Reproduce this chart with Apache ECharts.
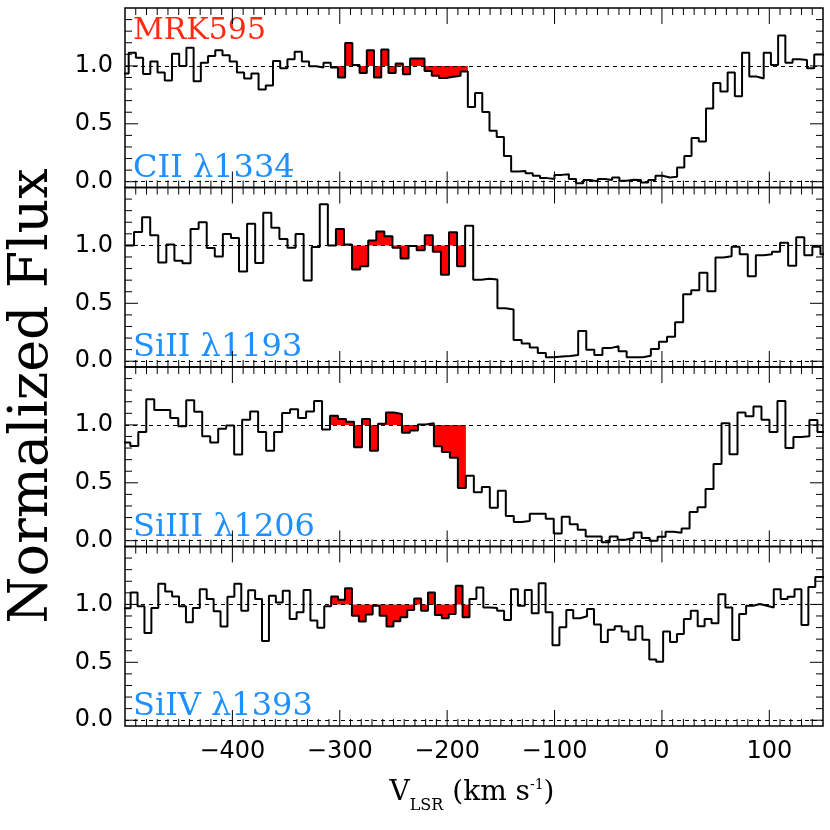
<!DOCTYPE html>
<html>
<head>
<meta charset="utf-8">
<style>
html, body { margin: 0; padding: 0; background: #fff; }
#chart { width: 830px; height: 830px; }
</style>
<script src="https://cdn.jsdelivr.net/npm/echarts@6.0.0/dist/echarts.min.js"></script>
</head>
<body>
<div id="chart"></div>
<script>
// velocity grid of each line: left edge of first bin and bin width (km/s)
const ciiStart = -503.3, ciiWidth = 6.72;
const siiiStart = -499.1, siiiWidth = 7.52;
const siiiiStart = -502.5, siiiiWidth = 7.44;
const siivStart = -501.2, siivWidth = 6.44;

// normalized flux per bin
const ciiFlux = [
  0.935, 1.113, 1.07, 0.93, 1.037, 0.943, 0.873, 1.105, 1.0, 1.156, 0.867, 1.028,
  1.085, 1.136, 1.093, 1.037, 0.943, 0.892, 0.935, 0.796, 0.83, 1.042, 0.98, 1.057,
  1.122, 1.037, 0.997, 0.986, 1.028, 0.986, 0.9, 1.198, 1.008, 0.938, 1.136, 0.9,
  1.142, 0.938, 1.02, 0.929, 1.065, 1.065, 0.957, 0.915, 0.895, 0.907, 0.915, 0.952,
  0.646, 0.765, 0.603, 0.439, 0.385, 0.221, 0.088, 0.093, 0.074, 0.051, 0.031, 0.023,
  0.059, 0.065, 0.023, -0.014, 0.014, 0.003, 0.023, 0.014, 0.037, 0.008, 0.017, 0.014,
  -0.006, 0.014, 0.051, 0.037, 0.042, 0.122, 0.221, 0.377, 0.348, 0.632, 0.853, 0.779,
  0.943, 0.739, 1.113, 0.909, 0.892, 1.113, 1.008, 1.263, 1.028, 1.057, 1.051, 0.98,
  1.099, 1.10
];
const siiiFlux = [
  1.0, 1.116, 1.243, 1.088, 0.853, 1.008, 0.867, 0.845, 1.141, 1.2, 0.977, 0.904,
  1.099, 1.065, 0.774, 1.186, 0.847, 1.282, 1.153, 1.056, 0.98, 1.099, 0.698, 0.986,
  1.356, 1.0, 1.141, 1.008, 0.791, 0.819, 1.042, 1.121, 1.079, 0.98, 0.887, 0.994,
  0.958, 1.088, 0.946, 0.746, 1.113, 0.819, 1.169,
  0.703, 0.712, 0.706, 0.458, 0.446, 0.184, 0.153, 0.119, 0.071, 0.034, 0.040, 0.045,
  0.054, 0.260, 0.099, 0.054, 0.113, 0.130, 0.085, 0.034, 0.034, 0.048, 0.105, 0.167,
  0.212, 0.336, 0.579, 0.613, 0.763, 0.605, 0.895, 0.907, 0.989, 0.924, 0.734, 0.915,
  0.924, 0.946, 1.023, 0.825, 1.071, 0.915, 0.989, 0.924
];
const siiiiFlux = [
  0.847, 0.818, 0.938, 1.222, 1.128, 1.128, 1.06, 0.989, 1.213, 1.114, 0.901, 0.847,
  0.966, 0.994, 0.744, 1.045, 1.116, 0.938, 0.776, 0.938, 1.102, 1.136, 1.06, 1.116,
  1.207, 0.96, 1.08, 1.051, 1.028, 0.807, 1.051, 0.776, 1.009, 1.108, 1.094, 0.932,
  0.952, 1.003, 1.014, 0.815, 0.767, 0.716, 0.455,
  0.562, 0.418, 0.463, 0.284, 0.432, 0.213, 0.162, 0.170, 0.233, 0.233, 0.190, 0.063,
  0.207, 0.142, 0.094, 0.037, 0.037, -0.014, 0.037, 0.009, 0.023, 0.071, 0.023, 0.0,
  0.034, 0.077, 0.068, 0.105, 0.247, 0.290, 0.446, 0.662, 1.014, 0.747, 1.108, 1.074,
  1.159, 1.045, 0.938, 1.207, 0.801, 0.895, 0.901, 1.043, 0.938
];
const siivFlux = [
  0.966, 1.103, 0.983, 0.752, 0.969, 1.179, 1.111, 1.068, 0.983, 0.846, 0.969, 1.131,
  1.046, 0.94, 0.809, 1.066, 1.179, 0.946, 1.123, 1.046, 0.684, 1.074, 1.017, 1.117,
  0.875, 0.932, 1.125, 0.86, 0.798, 0.983, 1.068, 1.04, 1.14, 0.903, 0.852, 0.912,
  0.989, 0.903, 0.809, 0.855, 0.889, 0.952, 1.051, 0.946, 1.103, 0.909, 0.88, 0.917,
  1.16, 0.889,
  1.046, 1.145, 0.974, 0.969, 0.946, 0.866, 1.131, 0.989, 1.125, 0.923, 1.182, 0.932,
  0.647, 0.803, 0.952, 0.880, 0.897, 0.960, 0.826, 0.675, 0.781, 0.812, 0.766, 0.695,
  0.812, 0.695, 0.524, 0.504, 0.766, 0.675, 0.744, 0.875, 0.946, 0.812, 0.875, 0.838,
  1.088, 0.974, 0.692, 0.917, 0.989, 1.003, 0.989, 0.974, 1.131, 1.046, 1.066, 1.131,
  0.823, 1.151, 1.236, 1.236
];

const lineNames = ['CII λ1334', 'SiII λ1193', 'SiIII λ1206', 'SiIV λ1393'];
const targetName = 'MRK595';
// shaded velocity window (km/s)
const redFrom = -312, redTo = -178;
const xMin = -500, xMax = 150, yMin = -0.05, yMax = 1.5;
const yMajor = [0, 0.5, 1.0];
const yMinor = [0.1, 0.2, 0.3, 0.4, 0.6, 0.7, 0.8, 0.9, 1.1, 1.2, 1.3, 1.4];
const xMajor = [-400, -300, -200, -100, 0, 100];

const panels = [
  { name: lineNames[0], start: ciiStart, width: ciiWidth, flux: ciiFlux },
  { name: lineNames[1], start: siiiStart, width: siiiWidth, flux: siiiFlux },
  { name: lineNames[2], start: siiiiStart, width: siiiiWidth, flux: siiiiFlux },
  { name: lineNames[3], start: siivStart, width: siivWidth, flux: siivFlux }
];

// histogram outline: two points per bin (left edge, right edge)
function stepPoints(p, keep) {
  const pts = [];
  p.flux.forEach((f, k) => {
    const l = p.start + k * p.width, r = l + p.width;
    if (keep(l, r)) {
      pts.push([l, f], [r, f]);
    }
  });
  return pts;
}

// tick table: [value, isYAxis, isMajor]; x minor ticks every 10 km/s
const tickData = [];
for (let v = xMin + 10; v < xMax; v += 10) {
  tickData.push([v, 0, xMajor.indexOf(v) >= 0 ? 1 : 0]);
}
yMajor.forEach((v) => tickData.push([v, 1, 1]));
yMinor.forEach((v) => tickData.push([v, 1, 0]));

// inward ticks on all four sides of a panel
function renderTick(params, api) {
  const v = api.value(0), isY = api.value(1), major = api.value(2);
  const style = { stroke: '#000', lineWidth: 1 };
  if (!isY) {
    const len = major ? 16 : 7;
    const b = api.coord([v, yMin]), t = api.coord([v, yMax]);
    return { type: 'group', children: [
      { type: 'line', shape: { x1: b[0], y1: b[1], x2: b[0], y2: b[1] - len }, style: style },
      { type: 'line', shape: { x1: t[0], y1: t[1], x2: t[0], y2: t[1] + len }, style: style }
    ] };
  }
  const len = major ? 13 : 7;
  const l = api.coord([xMin, v]), r = api.coord([xMax, v]);
  return { type: 'group', children: [
    { type: 'line', shape: { x1: l[0], y1: l[1], x2: l[0] + len, y2: l[1] }, style: style },
    { type: 'line', shape: { x1: r[0], y1: r[1], x2: r[0] - len, y2: r[1] }, style: style }
  ] };
}

const panelTop = 8, panelH = 179.5;
const black = '#000';
const tickFont = { fontFamily: 'DejaVu Sans', fontSize: 24, color: black };
const serif = '"DejaVu Serif"';

const grid = [], xAxis = [], yAxis = [], series = [], graphic = [];

panels.forEach((p, i) => {
  const top = panelTop + i * panelH;
  grid.push({
    left: 125, right: 7, top: top, height: panelH,
    show: true, borderColor: black, borderWidth: 1.5, backgroundColor: 'rgba(0,0,0,0)'
  });

  xAxis.push({
    gridIndex: i, type: 'value', min: xMin, max: xMax, interval: 100,
    axisLine: { show: false, onZero: false },
    axisTick: { show: false },
    splitLine: { show: false },
    axisLabel: Object.assign({
      show: i === 3, margin: 14,
      formatter: (v) => (v === xMin || v === xMax) ? '' : (v < 0 ? '\u2212' + (-v) : '' + v)
    }, tickFont)
  });
  yAxis.push({
    gridIndex: i, type: 'value', min: yMin, max: yMax,
    axisLine: { show: false, onZero: false },
    axisTick: { show: false },
    splitLine: { show: false },
    axisLabel: Object.assign({
      customValues: yMajor, margin: 12,
      formatter: (v) => v.toFixed(1)
    }, tickFont)
  });

  // dotted reference lines at 0 and 1
  series.push({
    type: 'line', xAxisIndex: i, yAxisIndex: i, data: [], z: 1,
    markLine: {
      silent: true, symbol: 'none', label: { show: false },
      lineStyle: { color: black, width: 1, type: [4, 4] },
      data: [{ yAxis: 0 }, { yAxis: 1 }]
    }
  });
  // shaded window between spectrum and continuum
  series.push({
    type: 'line', xAxisIndex: i, yAxisIndex: i, z: 2,
    data: stepPoints(p, (l, r) => l >= redFrom && r <= redTo),
    symbol: 'none', lineStyle: { width: 0 },
    areaStyle: { color: '#ff0000', opacity: 1, origin: 1 }
  });
  series.push({
    type: 'line', xAxisIndex: i, yAxisIndex: i, z: 3,
    data: stepPoints(p, () => true),
    symbol: 'none', lineStyle: { color: black, width: 2 }
  });
  series.push({
    type: 'custom', coordinateSystem: 'cartesian2d', xAxisIndex: i, yAxisIndex: i,
    z: 4, silent: true, data: tickData, renderItem: renderTick
  });

  graphic.push({
    type: 'text', x: 133, y: top + panelH - 19,
    style: { text: p.name, font: '32px ' + serif, fill: '#1e90ff', verticalAlign: 'middle' }
  });
});

graphic.push({
  type: 'text', x: 133, y: 31,
  style: { text: targetName, font: '30px ' + serif, fill: '#ff2a12', verticalAlign: 'middle' }
});
graphic.push({
  type: 'text', x: 33, y: 396, rotation: Math.PI / 2,
  style: { text: 'Normalized Flux', font: '54px ' + serif, fill: black, align: 'center', verticalAlign: 'middle' }
});
graphic.push({
  type: 'text', x: 472, y: 796,
  style: {
    text: '{a|V}{b|LSR}{a| (km s}{c|-1}{a|)}',
    align: 'center', verticalAlign: 'middle', fill: black,
    rich: {
      a: { fontFamily: 'DejaVu Serif', fontSize: 28, verticalAlign: 'bottom', padding: [0, 0, 7, 0] },
      b: { fontFamily: 'DejaVu Serif', fontSize: 16, verticalAlign: 'bottom' },
      c: { fontFamily: 'DejaVu Serif', fontSize: 14, verticalAlign: 'top' }
    }
  }
});

const chart = echarts.init(document.getElementById('chart'));
chart.setOption({
  animation: false,
  backgroundColor: '#fff',
  grid: grid,
  xAxis: xAxis,
  yAxis: yAxis,
  series: series,
  graphic: graphic
});
</script>
</body>
</html>
